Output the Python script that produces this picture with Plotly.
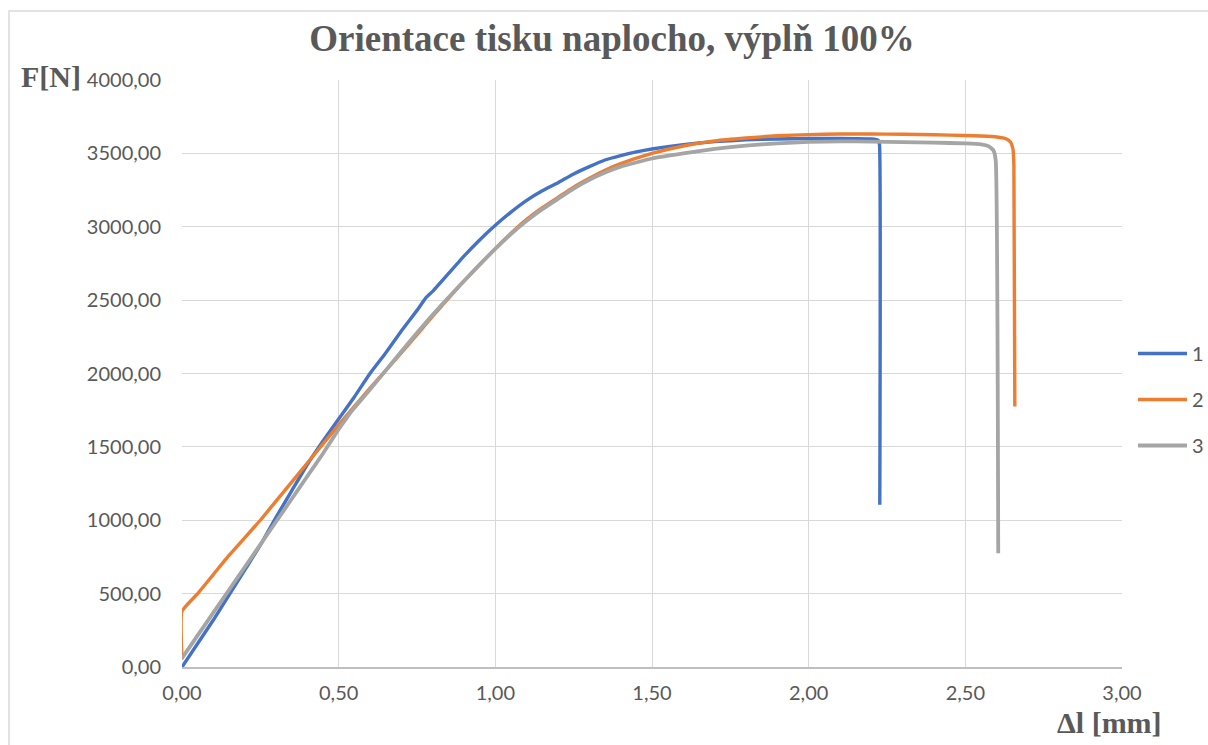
import plotly.graph_objects as go

# ---- data ----
x1 = [0, 0.05, 0.1, 0.15, 0.2, 0.25, 0.3, 0.35, 0.4, 0.45, 0.5, 0.55, 0.6, 0.65, 0.7, 0.75,
      0.78, 0.8, 0.85, 0.9, 0.95, 1.0, 1.05, 1.1, 1.15, 1.2, 1.25, 1.3, 1.35, 1.4, 1.45, 1.5,
      1.6, 1.7, 1.8, 1.9, 2.0, 2.1, 2.2, 2.222, 2.226, 2.227]
f1 = [0, 160, 320, 490, 660, 830, 1020, 1200, 1380, 1540, 1690, 1840, 2000, 2140, 2290, 2430,
      2520, 2560, 2680, 2800, 2910, 3010, 3100, 3180, 3245, 3300, 3360, 3410, 3455, 3485, 3510, 3530,
      3560, 3580, 3592, 3598, 3601, 3602, 3598, 3590, 3560, 1105]

x2 = [0, 0, 0.05, 0.1, 0.15, 0.2, 0.25, 0.3, 0.35, 0.4, 0.45, 0.5, 0.6, 0.7, 0.8, 0.9, 1.0,
      1.05, 1.1, 1.15, 1.2, 1.25, 1.3, 1.35, 1.4, 1.5, 1.6, 1.7, 1.8, 1.9, 2.0, 2.1, 2.2, 2.3,
      2.4, 2.5, 2.55, 2.6, 2.63, 2.645, 2.652, 2.655, 2.658]
f2 = [50, 380, 500, 630, 760, 880, 1000, 1130, 1260, 1390, 1520, 1650, 1900, 2140, 2390, 2630, 2850,
      2955, 3050, 3130, 3200, 3270, 3330, 3385, 3430, 3500, 3550, 3585, 3605, 3620, 3628, 3632, 3632, 3630,
      3627, 3622, 3618, 3612, 3600, 3575, 3530, 3420, 1775]

x3 = [0, 0.05, 0.1, 0.15, 0.2, 0.25, 0.3, 0.35, 0.4, 0.45, 0.5, 0.52, 0.54, 0.56, 0.6, 0.7,
      0.8, 0.9, 1.0, 1.05, 1.1, 1.15, 1.2, 1.25, 1.3, 1.35, 1.4, 1.5, 1.6, 1.7, 1.8, 1.9, 2.0,
      2.1, 2.2, 2.3, 2.4, 2.5, 2.55, 2.575, 2.59, 2.597, 2.605]
f3 = [60, 215, 370, 525, 680, 835, 990, 1145, 1300, 1455, 1620, 1680, 1740, 1790, 1890, 2150,
      2400, 2630, 2850, 2950, 3040, 3120, 3190, 3260, 3320, 3370, 3410, 3465, 3500, 3530, 3553, 3568, 3578,
      3582, 3580, 3577, 3573, 3568, 3562, 3548, 3520, 3450, 775]

series_names = ["1", "2", "3"]
colors = ["#4472C4", "#ED7D31", "#A5A5A5"]

x_ticks = [0, 0.5, 1.0, 1.5, 2.0, 2.5, 3.0]
x_ticktext = ["0,00", "0,50", "1,00", "1,50", "2,00", "2,50", "3,00"]
y_ticks = [0, 500, 1000, 1500, 2000, 2500, 3000, 3500, 4000]
y_ticktext = ["0,00", "500,00", "1000,00", "1500,00", "2000,00", "2500,00", "3000,00", "3500,00", "4000,00"]

title_text = "Orientace tisku naplocho, výplň 100%"
y_label = "F[N]"
x_label = "Δl [mm]"

# ---- figure ----
W, H = 1208, 745
L, R, T, B = 182, 86, 80, 78
pw, ph = W - L - R, H - T - B

def px_to_paper(px, py):
    return (px - L) / pw, (H - B - py) / ph

fig = go.Figure()
for xs, fs, name, col, lw in zip([x1, x2, x3], [f1, f2, f3], series_names, colors, [3.4, 3.4, 3.8]):
    fig.add_trace(go.Scatter(x=xs, y=fs, mode="lines", name=name, legendgroup=name,
                             line=dict(color=col, width=lw, shape="spline", smoothing=0.4)))

tick_font = dict(family="Lato, Liberation Sans, sans-serif", size=20, color="#595959")
fig.update_layout(
    width=W, height=H,
    margin=dict(l=L, r=R, t=T, b=B, autoexpand=False),
    paper_bgcolor="white", plot_bgcolor="white",
    title=dict(text=title_text, x=612 / W, xanchor="center", y=1 - 38 / H, yanchor="middle",
               font=dict(family="Liberation Serif, serif", size=37, color="#595959", weight="bold")),
    xaxis=dict(range=[0, 3], tickvals=x_ticks, ticktext=x_ticktext, showgrid=True,
               gridcolor="#D9D9D9", gridwidth=1.3, zeroline=False, showline=True,
               linecolor="#BFBFBF", linewidth=1.5, ticks="", tickfont=tick_font,
               ticklabelstandoff=7, automargin=False),
    yaxis=dict(range=[0, 4000], tickvals=y_ticks, ticktext=y_ticktext, showgrid=True,
               gridcolor="#D9D9D9", gridwidth=1.3, zeroline=False, showline=False,
               ticks="", tickfont=tick_font, ticklabelstandoff=20, automargin=False),
    legend=dict(x=px_to_paper(1133, 0)[0], y=px_to_paper(0, 334)[1], xanchor="left", yanchor="top",
                font=dict(family="Lato, Liberation Sans, sans-serif", size=20, color="#595959"),
                traceorder="grouped", tracegroupgap=17, itemwidth=49, bgcolor="rgba(0,0,0,0)"),
    showlegend=True,
)

# axis-title annotations
ax_font = dict(family="Liberation Serif, serif", size=30, color="#595959", weight="bold")
xa, ya = px_to_paper(19, 76)
fig.add_annotation(text=y_label, xref="paper", yref="paper", x=xa, y=ya, xanchor="left",
                   yanchor="middle", showarrow=False, font=ax_font)
xa, ya = px_to_paper(1109, 722)
fig.add_annotation(text=x_label, xref="paper", yref="paper", x=xa, y=ya, xanchor="center",
                   yanchor="middle", showarrow=False, font=ax_font)

# outer chart border
x0b, y1b = px_to_paper(9, 11)
x1b, y0b = px_to_paper(1240, 780)
fig.add_shape(type="rect", xref="paper", yref="paper", x0=x0b, y0=y0b, x1=x1b, y1=y1b,
              line=dict(color="#D9D9D9", width=1.5), fillcolor="rgba(0,0,0,0)", layer="below")

fig.write_html("out.html")
